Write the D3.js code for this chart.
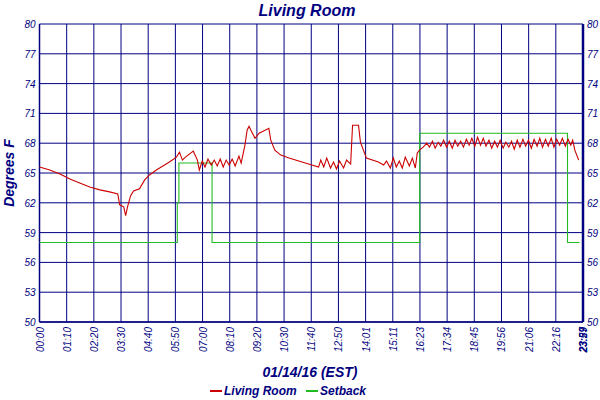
<!DOCTYPE html>
<html><head><meta charset="utf-8">
<script src="https://cdn.jsdelivr.net/npm/d3@7"></script>
<style>body{margin:0;background:#fff}text{font-family:"Liberation Sans",Arial,sans-serif;font-style:italic;fill:#000080}</style>
</head><body><svg id="c" width="600" height="400"></svg>
<script>
const tickLabels=["00:00","01:10","02:20","03:30","04:40","05:50","07:00","08:10","09:20","10:30","11:40","12:50","14:01","15:11","16:23","17:34","18:45","19:56","21:06","22:16","23:27"];
const yTicks=[50,53,56,59,62,65,68,71,74,77,80];
// x in tick-position units (0 = 00:00, 20 = 23:27)
const livingX=[0,.38,.75,1.12,1.48,1.85,2.22,2.58,2.88,2.95,3.1,3.17,3.24,3.35,3.46,3.68,3.87,4.05,4.3,4.6,4.78,5.04,5.15,5.26,5.37,5.66,5.81,5.88,5.99,6.09,6.2,6.32,6.43,6.54,6.65,6.76,6.87,6.98,7.09,7.2,7.34,7.42,7.49,7.56,7.64,7.71,7.78,7.93,8.08,8.3,8.44,8.51,8.66,8.88,9.18,9.54,9.9,10.27,10.35,10.46,10.57,10.71,10.82,10.93,11.04,11.19,11.3,11.45,11.52,11.74,11.81,12.03,12.47,12.66,12.77,12.91,13.02,13.13,13.24,13.35,13.46,13.61,13.72,13.83,13.9,13.98,14.12,
14.25,14.35,14.46,14.56,14.67,14.77,14.87,14.98,15.08,15.19,15.29,15.39,15.5,15.6,15.71,15.81,15.91,16.02,16.12,16.23,16.33,16.43,16.54,16.64,16.75,16.85,16.95,17.06,17.16,17.27,17.37,17.47,17.58,17.68,17.79,17.89,17.99,18.1,18.2,18.31,18.41,18.51,18.62,18.72,18.83,18.93,19.03,19.14,19.24,19.35,19.45,19.55,19.62,19.7,19.84];
const livingT=[65.6,65.3,64.9,64.4,64.0,63.6,63.3,63.1,62.9,61.8,61.6,60.7,61.6,62.7,63.2,63.4,64.3,64.8,65.3,65.8,66.1,66.6,67.1,66.3,66.6,67.2,66.3,65.3,66.2,65.6,66.4,65.8,66.3,65.7,66.4,65.6,66.3,65.8,66.4,65.7,66.7,66.0,66.9,67.8,69.3,69.7,69.3,68.5,69.0,69.3,69.5,68.3,67.3,66.8,66.5,66.2,65.9,65.6,66.3,65.6,66.5,65.5,66.1,65.4,66.2,65.5,66.3,65.9,69.8,69.8,68.1,66.5,66.1,65.8,66.2,65.5,66.5,65.6,66.2,65.5,66.6,65.7,66.5,65.5,67.0,67.3,67.6,
68.0,67.6,68.2,67.5,68.1,67.7,68.3,67.6,68.2,67.5,68.3,67.7,68.2,67.6,68.4,67.8,68.5,67.7,68.6,67.8,68.5,67.7,68.3,67.5,68.2,67.6,68.3,67.5,68.1,67.6,68.2,67.4,68.3,67.6,68.4,67.7,68.3,67.5,68.4,67.7,68.5,67.6,68.4,67.7,68.5,67.6,68.4,67.8,68.5,67.7,68.4,67.8,68.3,67.3,66.3];
const setbackX=[0,5.07,5.07,5.13,5.13,6.35,6.35,13.99,13.99,19.43,19.43,19.87];
const setbackT=[58,58,62,62,66,66,58,58,69,69,58,58];

const svg=d3.select("#c");
const L=39.5,R=583,T=24,B=322;
const x=d3.scaleLinear().domain([0,20]).range([L,R]);
const y=d3.scaleLinear().domain([50,80]).range([B,T]);
const navy="#000080";
const g=svg.append("g");
g.selectAll(".vg").data(d3.range(tickLabels.length)).join("line")
 .attr("x1",d=>x(d)).attr("x2",d=>x(d)).attr("y1",T).attr("y2",B).attr("stroke",navy).attr("stroke-width",1);
g.selectAll(".hg").data(yTicks).join("line")
 .attr("x1",L).attr("x2",R).attr("y1",d=>y(d)).attr("y2",d=>y(d)).attr("stroke",navy).attr("stroke-width",1);
g.append("line").attr("x1",R).attr("x2",R).attr("y1",T).attr("y2",B).attr("stroke",navy).attr("stroke-width",2.5);
g.append("line").attr("x1",L).attr("x2",L).attr("y1",T).attr("y2",B).attr("stroke",navy).attr("stroke-width",1.5);
g.append("line").attr("x1",L).attr("x2",R).attr("y1",B).attr("y2",B).attr("stroke",navy).attr("stroke-width",1.5);
g.selectAll(".yl").data(yTicks).join("text").attr("x",L-4).attr("y",d=>y(d)+4).attr("text-anchor","end").attr("font-size",10).text(d=>d);
g.selectAll(".yr").data(yTicks).join("text").attr("x",R+4).attr("y",d=>y(d)+4).attr("font-size",10).text(d=>d);
g.selectAll(".xl").data(tickLabels).join("text")
 .attr("transform",(d,i)=>`translate(${x(i)+4},${B+5}) rotate(-90)`).attr("text-anchor","end").attr("font-size",10).text(d=>d);
g.append("text").attr("transform",`translate(${x(20)+4},${B+5}) rotate(-90)`).attr("text-anchor","end").attr("font-size",10).attr("font-weight","bold").text("23:59");
const line=d3.line().x(d=>x(d[0])).y(d=>y(d[1]));
g.append("path").datum(setbackX.map((v,i)=>[v,setbackT[i]])).attr("d",line).attr("fill","none").attr("stroke","#22bb22").attr("stroke-width",1.1);
g.append("path").datum(livingX.map((v,i)=>[v,livingT[i]])).attr("d",line).attr("fill","none").attr("stroke","#cc0000").attr("stroke-width",1.1);
svg.append("text").attr("x",307).attr("y",16).attr("text-anchor","middle").attr("font-size",16).attr("font-weight","bold").text("Living Room");
svg.append("text").attr("transform","translate(14,173) rotate(-90)").attr("text-anchor","middle").attr("font-size",14).attr("font-weight","bold").text("Degrees F");
svg.append("text").attr("x",310).attr("y",377).attr("text-anchor","middle").attr("font-size",14).attr("font-weight","bold").text("01/14/16 (EST)");
const leg=[["Living Room","#cc0000",210],["Setback","#22bb22",306]];
leg.forEach(([n,c,lx])=>{
 svg.append("line").attr("x1",lx).attr("x2",lx+12).attr("y1",391).attr("y2",391).attr("stroke",c).attr("stroke-width",2);
 svg.append("text").attr("x",lx+14).attr("y",395).attr("font-size",12).attr("font-weight","bold").text(n);
});
</script></body></html>
